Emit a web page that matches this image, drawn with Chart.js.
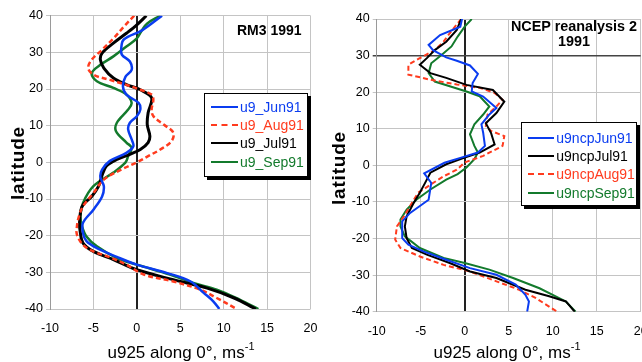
<!DOCTYPE html>
<html>
<head>
<meta charset="utf-8">
<script src="https://cdn.jsdelivr.net/npm/chart.js@4.4.1/dist/chart.umd.min.js"></script>
<style>
  html, body { margin: 0; padding: 0; background: #fff; }
  body { width: 642px; height: 362px; position: relative; overflow: hidden;
         font-family: "Liberation Sans", Arial, sans-serif; color: #000; }
  canvas { position: absolute; top: 0; }
  #left { left: 0; }
  #right { left: 320px; }
  .ytitle { position: absolute; font-weight: bold; font-size: 19px; letter-spacing: 0.8px;
            white-space: nowrap; transform: translate(-50%, -50%) rotate(-90deg); }
  .xtitle { position: absolute; font-size: 17px; line-height: 17px; white-space: nowrap;
            transform: translateX(-50%); }
  .xtitle sup { font-size: 11px; vertical-align: baseline; position: relative; top: -8px; }
  .ptitle { position: absolute; font-weight: bold; white-space: nowrap; }
  .legend { position: absolute; background: #fff; border: 1px solid #000;
            box-shadow: 3px 3px 0 #000; box-sizing: border-box; font-size: 14px; }
  .legend .row { display: flex; align-items: center; white-space: nowrap; }
  .legend .sw { display: inline-block; height: 0; margin-right: 2px; }
</style>
</head>
<body>
<canvas id="left"></canvas>
<canvas id="right"></canvas>

<div class="ytitle" style="left:18px; top:163px;">latitude</div>
<div class="ytitle" style="left:339px; top:168px;">latitude</div>
<div class="xtitle" style="left:181px; top:344px;">u925 along 0°, ms<sup>-1</sup></div>
<div class="xtitle" style="left:507px; top:344px;">u925 along 0°, ms<sup>-1</sup></div>

<div class="ptitle" style="left:237px; top:22px; font-size:14px;">RM3 1991</div>
<div class="ptitle" style="left:574px; top:19px; font-size:14.4px; line-height:14.7px; text-align:center; transform:translateX(-50%);">NCEP reanalysis 2<br>1991</div>

<div id="legL" class="legend" style="left:204px; top:93px; width:104px; height:84px; padding:3.5px 0 0 6px;"></div>
<div id="legR" class="legend" style="left:521px; top:122px; width:116px; height:84px; padding:6px 0 0 5.7px;"></div>

<script>
// latitudes (y) and zonal wind u925 (x)
// RM3 1991
const latJunRM = [40, 36, 33.5, 31, 29.3, 27.5, 25.2, 23.4, 20.7, 18.5, 16.2, 14.4, 12.6, 10.8, 9, 6.3, 4.4, 2.6, 0.4, -2, -4, -6.5, -9.3, -12.9, -16.5, -19.3, -21.5, -23.4, -25.8, -27.9, -30.2, -32.5, -35.6, -37.9, -40];
const uJunRM   = [2.9, 0.6, -1.5, -1.8, -1.7, -0.8, -0.6, -1.3, -1.6, -1.2, 0.2, 0.4, 0, -0.8, -1.0, -0.6, -0.4, -1.2, -3.1, -4.0, -4.2, -3.8, -4.0, -5.0, -6.2, -6.2, -5.8, -4.6, -2.3, 0, 3.5, 6.2, 7.7, 8.8, 9.5];

const latAugRM = [40, 37, 33.8, 30.7, 28, 25.7, 23.9, 22.5, 21.2, 19.8, 18.5, 17.1, 14.4, 12.6, 10.3, 8.1, 5.8, 3.5, 1.7, 0, -2, -4.7, -8.4, -12, -15, -17.5, -19.7, -22.5, -24.3, -26, -27.9, -30.6, -32.5, -34.7, -37, -40];
const uAugRM   = [-0.3, -1.5, -2.7, -4.0, -5.2, -5.6, -5.0, -3.1, -1.3, 0.4, 1.7, 1.9, 1.7, 1.9, 3.1, 4.2, 4.0, 2.7, 1.3, 0, -1.8, -3.8, -5.0, -6.2, -6.7, -6.9, -6.9, -6.2, -5.0, -3.0, -1.2, 0.8, 4.2, 7.3, 9.2, 11.5];

const latJulRM = [40, 37.5, 35.2, 32.5, 29.8, 28, 25.7, 23, 21.2, 19.8, 17.6, 13.5, 10.3, 7.2, 5.4, 3.5, 2.2, 0.8, -1, -3.5, -6.5, -9.3, -12, -16.5, -19.3, -22, -24.3, -26.5, -29.3, -32, -34.3, -37, -40];
const uJulRM   = [1.1, 0, -1.2, -2.7, -4.0, -4.2, -3.8, -2.7, -1.2, 0.4, 1.7, 1.3, 1.2, 1.5, 1.3, 0.4, -0.8, -2.3, -3.5, -4.0, -4.4, -5.2, -6.3, -6.6, -6.5, -6.2, -5.0, -2.7, 0, 4.2, 8.1, 11.2, 13.7];

const latSepRM = [40, 37.9, 36.1, 33.8, 31.6, 28.9, 26.6, 24.3, 22.1, 20.3, 18.5, 16.2, 14.4, 10.8, 8.5, 5.4, 4, 1.7, 0, -2.8, -6.5, -11.1, -14.7, -17.5, -20.2, -22.9, -26.1, -27.9, -30.6, -32.9, -34.7, -37.5, -40];
const uSepRM   = [2.7, 1.2, 0.6, 0, -1.2, -2.7, -4.2, -5.2, -4.6, -2.7, -1.2, -0.6, -1.0, -2.3, -2.4, -1.2, -0.6, -1.0, -1.3, -2.7, -5.0, -6.2, -6.5, -6.3, -5.8, -4.6, -2.3, 0, 3.8, 6.5, 9.2, 11.9, 14.0];

// NCEP reanalysis 2, 1991
const latJunNC = [40, 37.9, 35.6, 32.9, 31.5, 29.5, 28.6, 27.3, 25, 22.5, 20.2, 18.8, 15.7, 13.9, 11.2, 8.9, 5.3, 3.5, 2.1, 0.7, -2.2, -4.8, -9.4, -13, -15.3, -19.9, -21.7, -23.5, -25.8, -28.1, -29.9, -32.6, -35.4, -37.2, -40];
const uJunNC   = [-0.3, -0.5, -2.8, -4.1, -3.6, -2.1, -0.9, 0.6, 1.5, 0.9, 0.8, 2.1, 3.6, 2.8, 1.9, 2.1, 2.3, 1.5, -0.4, -2.3, -4.6, -3.8, -4.1, -6.2, -7.1, -7.1, -6.4, -4.7, -2.1, 0.6, 3.6, 5.8, 6.9, 7.3, 7.1];

const latJulNC = [40, 37, 33.8, 31.5, 29.3, 27.5, 25.2, 23.9, 22, 20.6, 17.4, 14.3, 11.5, 8.8, 5.7, 3.5, 2.1, 0.3, -2, -4.8, -7.5, -10.3, -13.9, -16.7, -19.9, -22.6, -24.4, -26.7, -29, -30.8, -34, -35.8, -37.2, -40];
const uJulNC   = [-0.4, -0.9, -2.1, -3.4, -4.3, -5.1, -3.9, -2.1, 0.2, 3.2, 4.5, 3.6, 2.4, 3.0, 3.4, 1.7, 0, -2.1, -3.9, -4.5, -5.1, -5.8, -6.6, -6.8, -6.6, -6.0, -4.3, -1.7, 0.6, 3.6, 6.9, 9.6, 11.5, 12.5];

const latAugNC = [40, 38.5, 36.1, 33.8, 31.5, 29.3, 27.5, 24.8, 23.4, 22.1, 21.2, 19.8, 17.9, 16.1, 13.9, 10.7, 9.4, 8, 5.3, 2.6, 0.8, -1.2, -3, -5.3, -7.5, -10.3, -13.9, -16.7, -20.3, -22.6, -24.9, -27.2, -29, -31.7, -34, -36.3, -40];
const uAugNC   = [-0.4, -0.9, -1.7, -2.4, -3.4, -5.1, -6.4, -6.4, -3.9, -0.9, 1.7, 3.4, 4.3, 3.6, 2.6, 2.4, 3.0, 4.5, 4.3, 2.1, 0, -0.9, -2.4, -3.9, -5.3, -6.0, -6.9, -7.7, -7.9, -7.3, -5.1, -2.4, 0.6, 3.6, 6.2, 8.1, 10.5];

const latSepNC = [40, 37.9, 35.2, 32.5, 30.2, 27.9, 25.2, 22.9, 21.6, 20.2, 18.9, 16.1, 13.9, 11.2, 8.5, 5.3, 3.5, 1.7, -0.6, -2.4, -3.9, -6.6, -9.4, -12.1, -14.8, -16.7, -19.4, -22.6, -25.3, -26.7, -28.5, -30.8, -33.6, -37.2, -40];
const uSepNC   = [0.8, 0, -0.8, -1.5, -2.6, -3.8, -4.1, -3.4, -1.7, 0.2, 1.7, 2.8, 2.1, 1.1, 0.6, 1.1, 1.5, 1.1, 0.2, -0.8, -2.1, -3.9, -5.5, -6.6, -7.3, -7.3, -6.8, -5.1, -2.4, 0, 2.8, 5.5, 8.5, 11.5, 12.6];

const xTicks = [-10, -5, 0, 5, 10, 15, 20];
const yTicks = [-40, -30, -20, -10, 0, 10, 20, 30, 40];

const BLUE = '#0a3cf0', RED = '#ff3b1e', BLACK = '#000000', GREEN = '#137a2c';
const FONT = '"Liberation Sans", Arial, sans-serif';

function pts(lat, u) {
  return lat.map((y, i) => ({ x: u[i], y: y }));
}

function series(label, lat, u, color, width, dashed, tension) {
  return {
    label: label,
    data: pts(lat, u),
    borderColor: color,
    backgroundColor: color,
    borderWidth: width,
    borderDash: dashed ? [5, 3] : [],
    showLine: true,
    pointRadius: 0,
    tension: tension,
    fill: false
  };
}

// area = wanted plot box inside the canvas (left, top, right, bottom)
function makeChart(id, w, area, datasets, darkY) {
  const cv = document.getElementById(id);
  cv.width = w; cv.height = 362;
  cv.style.width = w + 'px'; cv.style.height = '362px';
  const box = { yW: area.left, xH: 362 - area.bottom };
  const chart = new Chart(cv.getContext('2d'), {
    type: 'scatter',
    data: { datasets: datasets },
    options: {
      responsive: false,
      animation: false,
      layout: { padding: { top: area.top, right: w - area.right, left: 0, bottom: 0 } },
      plugins: { legend: { display: false }, tooltip: { enabled: false } },
      scales: {
        x: {
          type: 'linear', min: -10, max: 20,
          afterBuildTicks: s => { s.ticks = xTicks.map(v => ({ value: v })); },
          afterFit: s => { s.height = box.xH; },
          grid: {
            drawTicks: false,
            color: c => (c.tick && c.tick.value === 0) ? '#222' : '#c4c4c4',
            lineWidth: c => (c.tick && c.tick.value === 0) ? 2 : 1
          },
          border: { display: false },
          ticks: { color: '#000', padding: 12, font: { family: FONT, size: 12.5 } }
        },
        y: {
          type: 'linear', min: -40, max: 40,
          afterBuildTicks: s => { s.ticks = yTicks.map(v => ({ value: v })); },
          afterFit: s => { s.width = box.yW; },
          grid: {
            tickLength: 4,
            color: c => (c.tick && c.tick.value === darkY) ? '#444' : '#c4c4c4',
            lineWidth: c => (c.tick && c.tick.value === darkY) ? 1.5 : 1
          },
          border: { color: '#9a9a9a' },
          ticks: { color: '#000', padding: 3, font: { family: FONT, size: 12.5 } }
        }
      }
    }
  });
  // nudge the layout until the plot box sits where the figure has it
  for (let k = 0; k < 3; k++) {
    const a = chart.chartArea;
    const p = chart.options.layout.padding;
    box.yW += area.left - a.left;
    box.xH += a.bottom - area.bottom;
    p.top += area.top - a.top;
    p.right += a.right - area.right;
    chart.update();
  }
  return chart;
}

makeChart('left', 345, { left: 50, top: 15.7, right: 310.5, bottom: 309 }, [
  series('u9_Jun91', latJunRM, uJunRM, BLUE, 2.5, false, 0.35),
  series('u9_Aug91', latAugRM, uAugRM, RED, 2.5, true, 0.35),
  series('u9_Jul91', latJulRM, uJulRM, BLACK, 3, false, 0.35),
  series('u9_Sep91', latSepRM, uSepRM, GREEN, 2.5, false, 0.35)
], null);

makeChart('right', 370, { left: 56.7, top: 19, right: 320.7, bottom: 311.7 }, [
  series('u9ncpJun91', latJunNC, uJunNC, BLUE, 2, false, 0),
  series('u9ncpJul91', latJulNC, uJulNC, BLACK, 2, false, 0),
  series('u9ncpAug91', latAugNC, uAugNC, RED, 2, true, 0),
  series('u9ncpSep91', latSepNC, uSepNC, GREEN, 2, false, 0)
], 30);

function legend(id, items, rowH, swW) {
  const box = document.getElementById(id);
  items.forEach(it => {
    const row = document.createElement('div');
    row.className = 'row';
    row.style.height = rowH + 'px';
    const sw = document.createElement('span');
    sw.className = 'sw';
    sw.style.width = swW + 'px';
    sw.style.borderTop = '2px ' + (it[2] ? 'dashed ' : 'solid ') + it[1];
    const tx = document.createElement('span');
    tx.textContent = it[0];
    tx.style.color = it[1];
    row.appendChild(sw); row.appendChild(tx);
    box.appendChild(row);
  });
}

legend('legL', [['u9_Jun91', BLUE, false], ['u9_Aug91', RED, true], ['u9_Jul91', BLACK, false], ['u9_Sep91', GREEN, false]], 18.4, 27);
legend('legR', [['u9ncpJun91', BLUE, false], ['u9ncpJul91', BLACK, false], ['u9ncpAug91', RED, true], ['u9ncpSep91', GREEN, false]], 18.2, 26.6);
</script>
</body>
</html>
